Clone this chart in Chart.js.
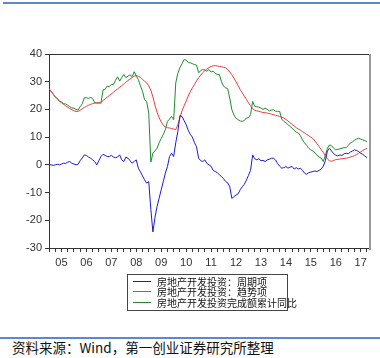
<!DOCTYPE html>
<html>
<head>
<meta charset="utf-8">
<script src="https://cdn.jsdelivr.net/npm/chart.js@4.4.1/dist/chart.umd.min.js"></script>
<style>
  html, body { margin: 0; padding: 0; background: #fff; }
  #wrap { position: relative; width: 380px; height: 358px; overflow: hidden; background: #fff; }
  #chartBox { position: absolute; left: 0; top: 0; width: 380px; height: 330px; }
  #topLine { position: absolute; left: 3px; top: 2px; width: 377px; height: 2px; background: #5B8BC6; }
  #botLine { position: absolute; left: 0; top: 337px; width: 380px; height: 2px; background: #5B8BC6; }
  #source { position: absolute; left: 12px; top: 339px; font-family: "Noto Sans CJK SC", sans-serif; font-size: 13.5px; color: #111; line-height: 16px; white-space: nowrap; }
  #legend { position: absolute; left: 127px; top: 274px; width: 161px; height: 37px; border: 1px solid #444; box-sizing: border-box; }
  .item { position: absolute; left: 0; height: 11px; font-family: "Noto Sans CJK SC", sans-serif; font-size: 10px; line-height: 11px; color: #111; white-space: nowrap; }
  .item .ln { position: absolute; left: 5px; top: 5px; width: 18px; height: 1px; }
  .item .tx { position: absolute; left: 29px; top: 0; }
</style>
</head>
<body>
<div id="wrap">
  <div id="topLine"></div>
  <div id="chartBox"><canvas id="c"></canvas></div>
  <div id="legend"></div>
  <div id="botLine"></div>
  <div id="source">资料来源：Wind，第一创业证券研究所整理</div>
</div>
<script>
// Month index 0 = Jan 2005
const yearLabels = ["05","06","07","08","09","10","11","12","13","14","15","16","17"];
const seriesNames = ["房地产开发投资：周期项", "房地产开发投资：趋势项", "房地产开发投资完成额累计同比"];
const seriesColors = ["#1A1AD6", "#F03A3A", "#1E8C2A"];

const cycle = [
  0.0,0.0,-0.2,0.0,0.2,0.0,0.3,0.6,0.5,1.0,1.2,0.6,
  0.3,0.0,0.2,1.5,2.5,3.6,3.4,2.8,2.4,1.8,1.2,0.0,
  1.5,3.0,3.8,3.4,3.0,3.0,3.4,2.8,2.6,2.8,3.6,1.8,
  1.2,2.8,2.4,1.5,0.6,1.2,1.8,-1.2,-2.5,-4.0,-5.4,-6.6,
  -6.0,-16.0,-24.2,-19.0,-15.0,-12.0,-9.0,-6.0,-3.0,-0.6,3.0,4.2,
  3.0,8.0,12.0,17.8,17.5,16.0,14.5,12.5,11.0,10.0,8.0,6.5,
  2.4,1.5,1.2,1.8,0.5,0.0,-0.5,-2.0,-2.4,-2.8,-3.6,-4.2,
  -5.0,-6.0,-6.5,-7.9,-12.1,-11.5,-10.9,-10.5,-9.0,-7.9,-7.0,-5.5,
  -3.8,-2.0,3.6,2.2,1.8,2.2,1.5,1.6,1.2,1.8,2.0,2.4,
  2.4,1.8,0.5,-0.5,-1.2,-1.0,-0.6,-1.2,-0.8,-0.6,-1.5,-1.0,
  -1.5,-1.2,-2.0,-3.0,-3.4,-2.8,-2.6,-2.4,-2.2,-2.4,-2.0,-1.5,
  -0.5,1.5,5.0,6.0,5.0,4.0,3.5,3.2,3.6,3.4,4.0,4.2,
  4.0,4.6,5.0,5.4,5.2,4.8,4.2,3.8,3.2,2.6
];
const trend = [
  27.4,26.6,25.6,24.6,23.8,23.0,22.4,21.8,21.3,20.8,20.3,19.9,
  19.5,19.3,19.3,19.7,20.2,20.7,21.1,21.5,21.8,22.1,22.3,22.4,
  22.4,22.6,23.2,23.8,24.4,25.0,25.6,26.2,26.8,27.4,28.0,28.6,
  29.2,29.8,30.4,31.0,31.5,32.0,32.2,32.0,31.5,30.8,30.2,29.6,
  28.5,27.0,24.5,21.5,19.0,17.0,15.5,14.3,13.7,13.4,13.3,13.1,
  12.9,12.7,14.5,17.0,19.5,21.3,23.0,24.8,26.4,27.8,29.0,30.3,
  31.4,32.4,33.3,34.0,34.6,35.1,35.5,35.7,35.8,35.7,35.5,35.4,
  35.2,35.0,34.4,33.5,32.5,31.3,30.0,28.6,27.2,26.0,24.8,23.6,
  22.4,21.3,20.3,19.7,19.5,19.3,19.1,18.9,18.8,18.7,18.5,18.3,
  18.1,17.9,17.7,17.5,17.2,16.9,16.4,15.8,15.2,14.6,14.0,13.4,
  12.9,12.5,12.0,11.5,11.0,10.5,10.0,9.5,8.6,7.6,6.6,5.5,
  4.5,3.3,2.2,1.4,1.3,1.6,1.9,2.0,2.1,2.2,2.3,2.4,
  2.6,2.8,3.0,3.3,3.7,4.2,4.7,5.2,5.6,6.0
];
const cumYoY = [
  27.5,26.5,25.5,24.5,24.0,23.0,22.8,22.0,22.0,21.5,21.0,20.5,
  20.5,20.0,19.8,21.0,22.0,24.2,24.2,24.0,24.3,24.0,22.4,22.3,
  22.3,22.3,27.0,27.3,28.4,28.2,29.0,29.0,30.5,31.8,30.2,31.5,
  32.6,31.5,32.0,32.5,31.8,33.6,32.0,30.8,28.5,26.6,23.5,22.9,
  18.7,1.0,4.2,5.0,6.0,8.0,9.5,11.0,12.7,15.7,16.5,17.5,
  16.3,29.6,33.0,35.0,36.5,38.0,37.8,37.0,36.8,36.5,36.2,36.0,
  33.2,34.0,34.4,34.2,33.8,34.4,33.5,33.8,33.0,32.6,32.6,30.0,
  28.4,27.8,27.5,24.0,19.9,18.0,16.8,16.3,15.8,15.7,16.0,16.9,
  17.0,18.1,22.9,21.1,21.0,20.8,20.5,20.0,20.5,20.0,19.5,19.8,
  19.9,19.4,19.3,19.3,16.5,15.7,15.2,14.5,13.9,13.2,12.5,11.8,
  11.5,10.5,9.0,7.9,7.0,6.0,5.4,5.0,4.3,3.5,2.8,2.4,
  1.2,3.5,6.0,7.2,6.9,6.0,5.4,5.6,5.8,6.0,6.2,6.2,
  7.0,7.9,8.3,8.9,9.3,9.6,9.3,9.0,8.7,8.4
];
const seriesValues = [cycle, trend, cumYoY];

function toPoints(arr) { return arr.map((v, i) => ({ x: i, y: v })); }

// HTML legend
const legendEl = document.getElementById('legend');
const rowTops = [1, 11, 22];
seriesNames.forEach((n, k) => {
  const d = document.createElement('div');
  d.className = 'item';
  d.style.top = rowTops[k] + 'px';
  d.innerHTML = '<span class="ln" style="background:' + seriesColors[k] + '"></span><span class="tx">' + n + '</span>';
  legendEl.appendChild(d);
});

const framePlugin = {
  id: 'frame',
  afterDraw(chart) {
    const a = chart.chartArea, ctx = chart.ctx;
    ctx.save();
    ctx.strokeStyle = '#333';
    ctx.lineWidth = 1;
    ctx.beginPath();
    ctx.moveTo(a.left, a.top + 0.5);
    ctx.lineTo(a.right, a.top + 0.5);
    ctx.stroke();
    ctx.strokeStyle = '#9a9a9a';
    ctx.lineWidth = 2;
    ctx.beginPath();
    ctx.moveTo(a.right + 1, a.top);
    ctx.lineTo(a.right + 1, a.bottom + 2);
    ctx.stroke();
    ctx.restore();
  }
};

new Chart(document.getElementById('c'), {
  type: 'line',
  data: {
    datasets: seriesValues.map((arr, k) => ({
      label: seriesNames[k],
      data: toPoints(arr),
      borderColor: seriesColors[k],
      backgroundColor: seriesColors[k],
      borderWidth: 1,
      pointRadius: 0,
      tension: 0,
      fill: false
    }))
  },
  options: {
    responsive: true,
    maintainAspectRatio: false,
    animation: false,
    layout: { padding: { left: 0, right: 11, top: 54, bottom: 58 } },
    plugins: { legend: { display: false }, tooltip: { enabled: false } },
    scales: {
      x: {
        type: 'linear',
        min: 0,
        max: 154,
        afterFit(s) { s.height = 24; },
        afterBuildTicks(s) {
          const t = [];
          for (let v = 0; v <= 154; v += 3) t.push({ value: v });
          s.ticks = t;
        },
        ticks: {
          autoSkip: false,
          maxRotation: 0,
          padding: 4,
          color: '#333',
          font: { family: 'Liberation Sans, Arial, sans-serif', size: 11 },
          callback(v) {
            if (v % 12 === 6) return yearLabels[(v - 6) / 12] || '';
            return '';
          }
        },
        grid: { display: true, drawOnChartArea: false, drawTicks: true, tickLength: 4, color: '#333' },
        border: { display: true, color: '#333', width: 1 }
      },
      y: {
        min: -30,
        max: 40,
        afterFit(s) { s.width = 49; },
        ticks: {
          stepSize: 10,
          padding: 3,
          color: '#333',
          font: { family: 'Liberation Sans, Arial, sans-serif', size: 11 }
        },
        grid: { display: true, drawOnChartArea: false, drawTicks: true, tickLength: 4, color: '#333' },
        border: { display: true, color: '#333', width: 1 }
      }
    }
  },
  plugins: [framePlugin]
});
</script>
</body>
</html>
